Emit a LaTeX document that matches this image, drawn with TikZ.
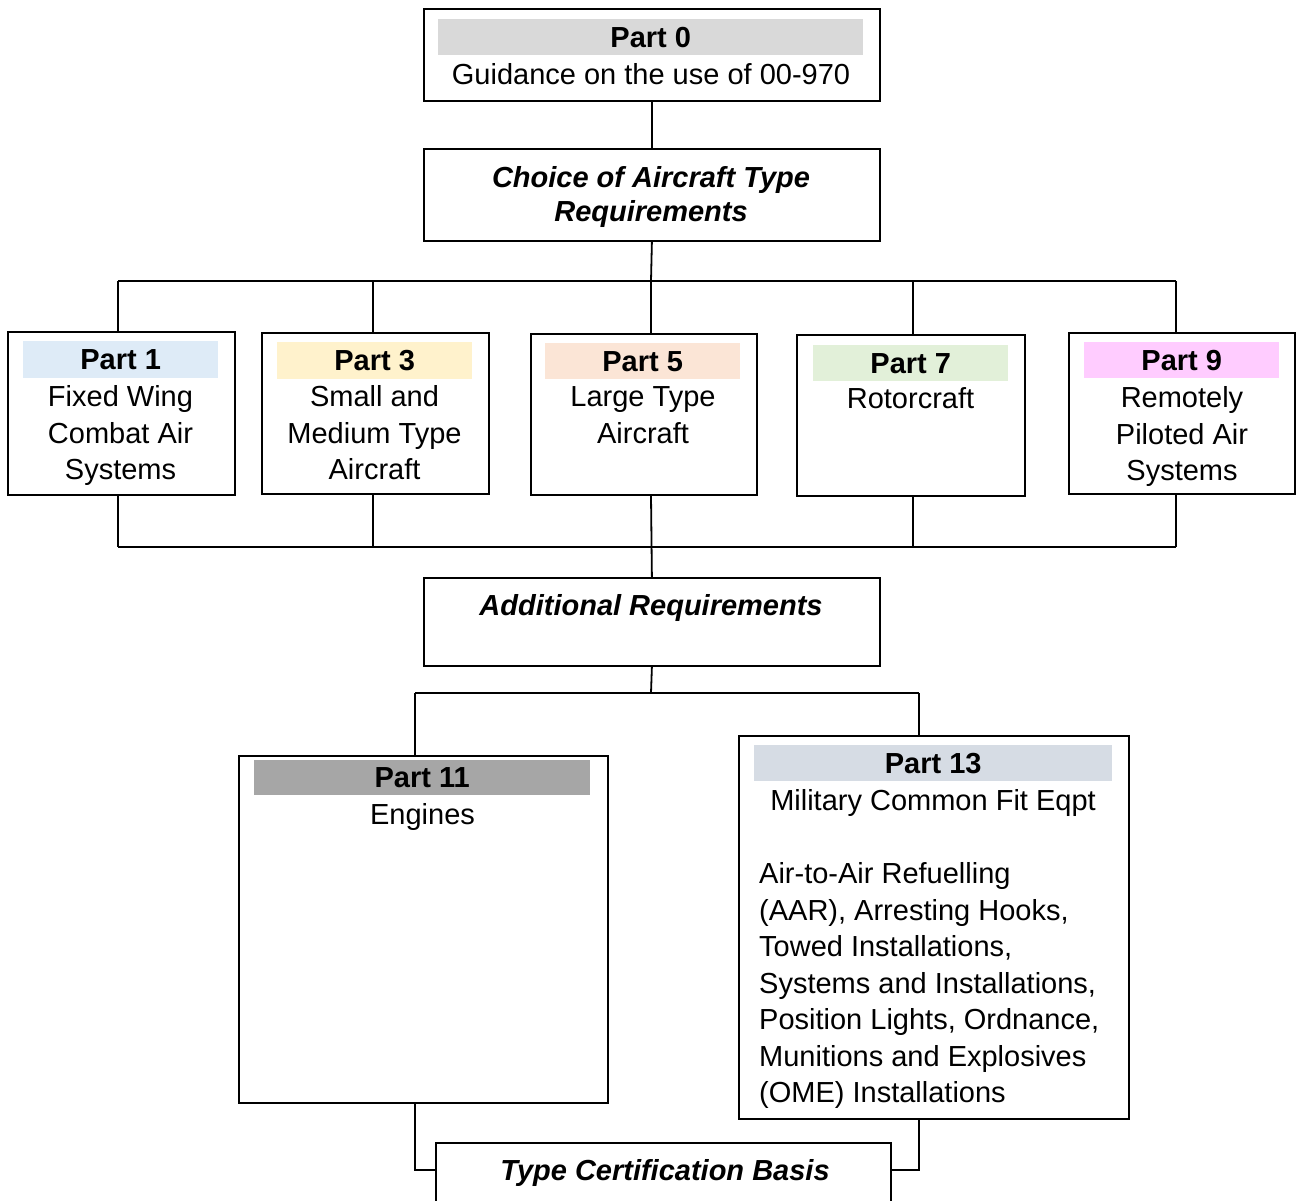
\documentclass[tikz,border=0pt]{standalone}
\usepackage{fontspec}
\setmainfont{Liberation Sans}
\definecolor{cgzero}{HTML}{D9D9D9}
\definecolor{cblue}{HTML}{DEEBF7}
\definecolor{cyel}{HTML}{FFF2CC}
\definecolor{cpeach}{HTML}{FBE5D6}
\definecolor{cgreen}{HTML}{E2F0D9}
\definecolor{cpink}{HTML}{FFCCFF}
\definecolor{cgeleven}{HTML}{A6A6A6}
\definecolor{cgthirteen}{HTML}{D6DCE4}
\tikzset{
  boxnode/.style={draw, line width=1.8pt, inner sep=0pt, anchor=north west},
  bandnode/.style={inner sep=0pt, anchor=north west, font=\fontsize{29}{36.5}\selectfont\bfseries},
  txtnode/.style={inner sep=0pt, anchor=north, align=center, font=\fontsize{29}{36.5}\selectfont},
  headnode/.style={inner sep=0pt, anchor=north, align=center, font=\fontsize{29}{34}\selectfont\bfseries\itshape},
  conn/.style={line width=1.8pt},
}
\begin{document}
\begin{tikzpicture}[x=1pt,y=-1pt]
\useasboundingbox (0,0) rectangle (1296,1200);
% Part 0
\node[boxnode, minimum width=456pt, minimum height=92pt] (p0) at (423,8) {};
\node[bandnode, fill=cgzero, minimum width=425pt, minimum height=36pt] (b0) at (438,19) {Part 0};
\node[txtnode] (t0) at (651,63.5) {Guidance on the use of 00-970};
% Choice
\node[boxnode, minimum width=456pt, minimum height=92pt] (ch) at (423,148) {};
\node[headnode] (tch) at (651,166.5) {Choice of Aircraft Type\\Requirements};
% Parts row
\node[boxnode, minimum width=227pt, minimum height=163pt] (p1) at (7,331) {};
\node[bandnode, fill=cblue, minimum width=195pt, minimum height=37pt] (b1) at (23,341) {Part 1};
\node[txtnode] (t1) at (120.5,385.5) {Fixed Wing\\Combat Air\\Systems};
\node[boxnode, minimum width=227pt, minimum height=161pt] (p3) at (261,332) {};
\node[bandnode, fill=cyel, minimum width=195pt, minimum height=37pt] (b3) at (277,342) {Part 3};
\node[txtnode] (t3) at (374.5,385.5) {Small and\\Medium Type\\Aircraft};
\node[boxnode, minimum width=226pt, minimum height=161pt] (p5) at (530,333) {};
\node[bandnode, fill=cpeach, minimum width=195pt, minimum height=36pt] (b5) at (545,343) {Part 5};
\node[txtnode] (t5) at (643,386.5) {Large Type\\Aircraft};
\node[boxnode, minimum width=228pt, minimum height=161pt] (p7) at (796,334) {};
\node[bandnode, fill=cgreen, minimum width=195pt, minimum height=36pt] (b7) at (813,345) {Part 7};
\node[txtnode] (t7) at (910.5,387.5) {Rotorcraft};
\node[boxnode, minimum width=226pt, minimum height=161pt] (p9) at (1068,332) {};
\node[bandnode, fill=cpink, minimum width=195pt, minimum height=36pt] (b9) at (1084,342) {Part 9};
\node[txtnode] (t9) at (1182,386.5) {Remotely\\Piloted Air\\Systems};
% Additional
\node[boxnode, minimum width=456pt, minimum height=88pt] (ad) at (423,577) {};
\node[headnode] (tad) at (651,594.5) {Additional Requirements};
% Part 11
\node[boxnode, minimum width=369pt, minimum height=347pt] (p11) at (238,755) {};
\node[bandnode, fill=cgeleven, minimum width=336pt, minimum height=35pt] (b11) at (254,760) {Part 11};
\node[txtnode] (t11) at (422.5,803.5) {Engines};
% Part 13
\node[boxnode, minimum width=390pt, minimum height=383pt] (p13) at (738,735) {};
\node[bandnode, fill=cgthirteen, minimum width=358pt, minimum height=36pt] (b13) at (754,745) {Part 13};
\node[txtnode] (t13) at (933,789.5) {Military Common Fit Eqpt};
\node[txtnode, anchor=north west, align=left] (l13) at (759,862.5) {Air-to-Air Refuelling\\(AAR), Arresting Hooks,\\Towed Installations,\\Systems and Installations,\\Position Lights, Ordnance,\\Munitions and Explosives\\(OME) Installations};
% Type certification
\node[boxnode, minimum width=455pt, minimum height=80pt] (tc) at (435,1142) {};
\node[headnode] (ttc) at (665,1159.5) {Type Certification Basis};
% connector coordinates
\coordinate (bt) at (651,281);
\coordinate (bb) at (651,547);
\coordinate (x1) at (118,0);
\coordinate (x3) at (373,0);
\coordinate (x5) at (651,0);
\coordinate (x7) at (913,0);
\coordinate (x9) at (1176,0);
\coordinate (bm) at (651,693);
\coordinate (x11) at (415,0);
\coordinate (x13) at (919,0);
\coordinate (yl) at (0,1170);
% connectors
\draw[conn] (p0.south) -- (ch.north);
\draw[conn] (ch.south) -- (bt);
\draw[conn] (x1 |- bt) -- (x9 |- bt);
\draw[conn] (x1 |- bt) -- (x1 |- p1.north);
\draw[conn] (x3 |- bt) -- (x3 |- p3.north);
\draw[conn] (x5 |- bt) -- (x5 |- p5.north);
\draw[conn] (x7 |- bt) -- (x7 |- p7.north);
\draw[conn] (x9 |- bt) -- (x9 |- p9.north);
\draw[conn] (x1 |- p1.south) -- (x1 |- bb);
\draw[conn] (x3 |- p3.south) -- (x3 |- bb);
\draw[conn] (x5 |- p5.south) -- (ad.north);
\draw[conn] (x7 |- p7.south) -- (x7 |- bb);
\draw[conn] (x9 |- p9.south) -- (x9 |- bb);
\draw[conn] (x1 |- bb) -- (x9 |- bb);
\draw[conn] (ad.south) -- (bm);
\draw[conn] (x11 |- bm) -- (x13 |- bm);
\draw[conn] (x11 |- bm) -- (x11 |- p11.north);
\draw[conn] (x13 |- bm) -- (x13 |- p13.north);
\draw[conn] (x11 |- p11.south) |- (tc.west |- yl);
\draw[conn] (x13 |- p13.south) |- (tc.east |- yl);
\end{tikzpicture}
\end{document}
